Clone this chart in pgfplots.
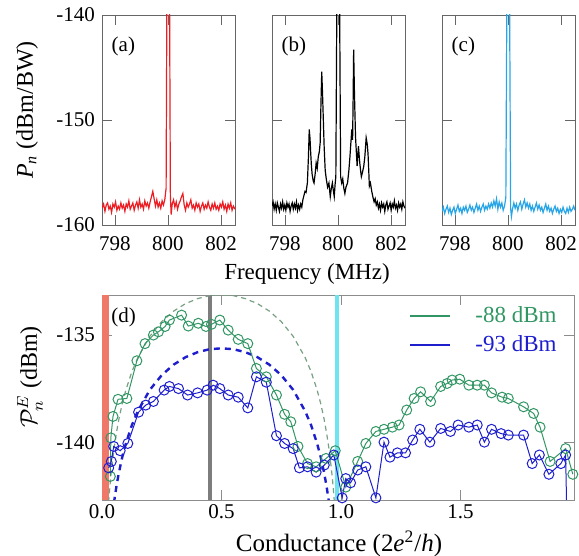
\documentclass[border=0pt]{standalone}
\usepackage{fontspec}
\setmainfont{Liberation Serif}
\usepackage{pgfplots}
\pgfplotsset{compat=1.18}

\definecolor{tracered}{RGB}{235,30,35}
\definecolor{traceblue}{RGB}{40,165,230}
\definecolor{hgreen}{RGB}{50,150,100}
\definecolor{hblue}{RGB}{30,30,205}
\definecolor{dgreen}{RGB}{120,160,130}
\definecolor{bandred}{RGB}{240,120,105}
\definecolor{bandgray}{RGB}{125,125,125}
\definecolor{bandcyan}{RGB}{110,228,238}

\pgfplotsset{
  every axis/.append style={
    scale only axis, font=\fontsize{10.5}{12}\selectfont,
    tick align=inside, major tick length=5pt,
    axis line style={black!60}, tick style={black!60},
    /pgf/number format/assume math mode=true,
  },
  spec/.style={
    width=66.5pt, height=105pt, anchor=south west,
    xmin=797.52, xmax=802.52, ymin=-160, ymax=-140,
    xtick={798,800,802}, ytick={-160,-150,-140}, yticklabels={},
    xticklabel style={yshift=-2pt},
  },
  trace/.style={line width=0.6pt, no marks},
}

\begin{document}
\begin{tikzpicture}
\path[use as bounding box] (0,0) rectangle (289.5pt,278pt);

% (a)
\begin{axis}[spec, at={(51pt,165.5pt)}, yticklabels={-160,-150,-140}]
\addplot[trace, tracered] coordinates {
(797.52,-158.4) (797.58,-158.0) (797.63,-158.7) (797.68,-158.1) (797.73,-157.9)
(797.78,-158.5) (797.83,-158.2) (797.88,-158.8) (797.93,-158.0) (797.98,-158.3)
(798.03,-157.8) (798.08,-158.6) (798.13,-158.2) (798.18,-158.5) (798.23,-157.9)
(798.28,-158.4) (798.33,-158.1) (798.38,-158.7) (798.43,-158.0) (798.48,-158.3)
(798.53,-157.7) (798.58,-158.5) (798.63,-158.2) (798.68,-157.9) (798.73,-158.6)
(798.78,-158.1) (798.83,-157.8) (798.88,-158.4) (798.93,-157.6) (798.98,-158.3)
(799.03,-158.0) (799.08,-158.5) (799.13,-157.7) (799.18,-158.2) (799.23,-157.9)
(799.28,-158.4) (799.33,-157.8) (799.38,-157.3) (799.43,-156.8) (799.48,-157.5)
(799.53,-158.2) (799.58,-157.6) (799.63,-158.3) (799.68,-157.9) (799.73,-158.4)
(799.78,-157.7) (799.83,-158.1) (799.88,-157.6) (799.93,-156.5) (799.96,-138)
(800.06,-138) (800.09,-157.2) (800.12,-159.0) (800.16,-158.0) (800.21,-157.6)
(800.26,-158.3) (800.31,-157.8) (800.36,-158.5) (800.41,-158.0) (800.46,-157.7)
(800.51,-157.3) (800.56,-157.0) (800.61,-158.1) (800.66,-158.6) (800.71,-157.9)
(800.76,-158.3) (800.81,-158.0) (800.86,-157.6) (800.91,-158.4) (800.96,-158.1)
(801.01,-158.6) (801.06,-157.9) (801.11,-158.3) (801.16,-158.0) (801.21,-158.7)
(801.26,-158.2) (801.31,-157.9) (801.36,-158.5) (801.41,-158.1) (801.46,-158.4)
(801.51,-157.8) (801.56,-158.3) (801.61,-158.6) (801.66,-158.0) (801.71,-158.4)
(801.76,-157.9) (801.81,-158.5) (801.86,-158.2) (801.91,-158.6) (801.96,-158.0)
(802.01,-158.3) (802.06,-157.8) (802.11,-158.5) (802.16,-158.1) (802.21,-158.7)
(802.26,-158.0) (802.31,-158.4) (802.36,-157.9) (802.41,-158.6) (802.46,-158.2)
(802.52,-158.5)};
\node[anchor=north west] at (rel axis cs:0.02,0.93) {(a)};
\end{axis}

% (b)
\begin{axis}[spec, at={(136pt,165.5pt)}]
\addplot[trace, black] coordinates {
(797.52,-158.2) (797.56,-157.8) (797.60,-158.5) (797.64,-158.0) (797.68,-158.6)
(797.72,-157.9) (797.76,-158.3) (797.80,-158.7) (797.84,-158.0) (797.88,-158.4)
(797.92,-157.8) (797.96,-158.5) (798.00,-158.1) (798.04,-158.6) (798.08,-157.9)
(798.12,-158.3) (798.16,-158.0) (798.20,-158.7) (798.24,-158.2) (798.28,-157.9)
(798.32,-158.5) (798.36,-158.0) (798.40,-158.4) (798.44,-157.8) (798.48,-158.6)
(798.52,-158.1) (798.56,-158.5) (798.60,-158.0) (798.64,-158.3) (798.68,-157.6)
(798.72,-157.2) (798.76,-156.8) (798.80,-156.9) (798.85,-156.0) (798.89,-153.5)
(798.92,-150.9) (798.95,-151.8) (798.97,-152.9) (799.00,-154.3) (799.03,-155.2)
(799.07,-155.8) (799.10,-156.0) (799.14,-155.2) (799.18,-154.1) (799.22,-154.6)
(799.26,-153.5) (799.30,-153.0) (799.33,-152.2) (799.36,-148.5) (799.39,-145.4)
(799.42,-147.5) (799.45,-150.0) (799.48,-152.5) (799.52,-154.8) (799.56,-155.6)
(799.61,-156.4) (799.66,-156.0) (799.71,-157.3) (799.75,-156.5) (799.79,-156.0)
(799.83,-156.8) (799.86,-157.3) (799.89,-156.2) (799.92,-155.4) (799.96,-138)
(800.06,-138) (800.10,-155.4) (800.14,-156.0) (800.18,-155.6) (800.22,-156.5)
(800.26,-157.0) (800.30,-156.4) (800.36,-156.0) (800.41,-154.8) (800.45,-153.5)
(800.49,-152.0) (800.52,-150.9) (800.55,-151.9) (800.57,-148.0) (800.59,-143.3)
(800.62,-147.5) (800.66,-151.6) (800.69,-153.0) (800.72,-154.4) (800.75,-153.2)
(800.77,-152.5) (800.80,-153.5) (800.82,-154.1) (800.85,-154.8) (800.88,-155.4)
(800.92,-155.0) (800.97,-154.4) (801.01,-153.5) (801.06,-151.7) (801.10,-152.3)
(801.13,-153.2) (801.16,-155.0) (801.18,-156.3) (801.22,-156.0) (801.27,-156.8)
(801.32,-157.4) (801.36,-157.8) (801.40,-157.5) (801.44,-158.1) (801.48,-157.8)
(801.52,-158.4) (801.56,-158.0) (801.60,-158.6) (801.64,-157.9) (801.68,-158.3)
(801.72,-158.0) (801.76,-158.7) (801.80,-158.1) (801.84,-157.8) (801.88,-158.5)
(801.92,-158.2) (801.96,-157.9) (802.00,-158.6) (802.04,-158.0) (802.08,-158.3)
(802.12,-157.7) (802.16,-158.4) (802.20,-158.1) (802.24,-158.6) (802.28,-157.9)
(802.32,-158.3) (802.36,-158.0) (802.40,-158.5) (802.44,-157.8) (802.48,-158.2)
(802.52,-158.4)};
\node[anchor=north west] at (rel axis cs:0.02,0.93) {(b)};
\end{axis}

% (c)
\begin{axis}[spec, at={(221pt,165.5pt)}]
\addplot[trace, traceblue] coordinates {
(797.52,-158.7) (797.57,-158.3) (797.62,-158.9) (797.67,-158.5) (797.72,-158.2)
(797.77,-158.8) (797.82,-158.4) (797.87,-159.0) (797.92,-158.6) (797.97,-158.3)
(798.02,-158.9) (798.07,-158.5) (798.12,-158.1) (798.17,-158.7) (798.22,-158.4)
(798.27,-158.9) (798.32,-158.3) (798.37,-158.6) (798.42,-158.2) (798.47,-158.8)
(798.52,-158.5) (798.57,-158.1) (798.62,-158.6) (798.67,-158.3) (798.72,-158.8)
(798.77,-158.4) (798.82,-158.0) (798.87,-158.6) (798.92,-158.2) (798.97,-158.7)
(799.02,-158.3) (799.07,-158.0) (799.12,-158.6) (799.17,-158.2) (799.22,-158.5)
(799.27,-158.0) (799.32,-158.4) (799.37,-157.9) (799.42,-158.3) (799.47,-157.7)
(799.52,-158.2) (799.57,-157.5) (799.62,-158.5) (799.67,-157.8) (799.72,-158.3)
(799.77,-157.9) (799.82,-158.6) (799.87,-158.2) (799.92,-157.4) (799.96,-138)
(800.06,-138) (800.10,-158.4) (800.13,-159.2) (800.17,-158.5) (800.22,-157.9)
(800.27,-158.4) (800.32,-158.0) (800.37,-158.6) (800.42,-158.1) (800.47,-157.8)
(800.52,-158.5) (800.57,-158.0) (800.62,-157.6) (800.67,-158.3) (800.72,-157.9)
(800.77,-158.4) (800.82,-158.0) (800.87,-158.6) (800.92,-158.2) (800.97,-158.7)
(801.02,-158.3) (801.07,-157.9) (801.12,-158.5) (801.17,-158.1) (801.22,-158.6)
(801.27,-158.3) (801.32,-158.8) (801.37,-158.4) (801.42,-158.0) (801.47,-158.6)
(801.52,-158.2) (801.57,-158.7) (801.62,-158.4) (801.67,-158.9) (801.72,-158.5)
(801.77,-158.2) (801.82,-158.7) (801.87,-158.4) (801.92,-158.9) (801.97,-158.5)
(802.02,-158.8) (802.07,-158.3) (802.12,-158.7) (802.17,-158.9) (802.22,-158.4)
(802.27,-158.8) (802.32,-158.3) (802.37,-158.7) (802.42,-158.5) (802.47,-158.2)
(802.52,-158.6)};
\node[anchor=north west] at (rel axis cs:0.02,0.93) {(c)};
\end{axis}

% (d)
\begin{axis}[width=236pt, height=102.5pt, at={(51pt,28pt)}, anchor=south west,
  xmin=0, xmax=1.975, ymin=-142.7, ymax=-133.13,
  xtick={0,0.5,1,1.5}, xticklabels={0.0,0.5,1.0,1.5},
  xticklabel style={yshift=-1pt, inner sep=1pt},
  ytick={-140,-135}, yticklabels={-140,-135},
  axis line style={black!45}, tick style={black!45},
  legend style={draw=none, fill=none, at={(rel axis cs:0.985,0.985)}, anchor=north east,
    font=\fontsize{11.5}{13}\selectfont, row sep=1pt,
    /tikz/every odd column/.style={column sep=10pt}},
  legend image code/.code={\draw[#1, mark=none, line width=1pt] (0pt,0pt) -- (20pt,0pt);},
]
\addplot[draw=none, fill=bandred, forget plot] coordinates {(0,-143) (0.028,-143) (0.028,-133) (0,-133)} -- cycle;
\addplot[bandgray, line width=2pt, forget plot] coordinates {(0.45,-143) (0.45,-133)};
\addplot[bandcyan, line width=2pt, forget plot] coordinates {(0.985,-143) (0.985,-133)};
\addplot[dgreen, line width=0.6pt, dash pattern=on 2.5pt off 2pt, forget plot] coordinates {
(0.025,-143.23) (0.03,-142.46) (0.035,-141.81) (0.04,-141.26) (0.05,-140.33) (0.06,-139.59)
(0.07,-138.96) (0.085,-138.19) (0.1,-137.56) (0.125,-136.71) (0.15,-136.05) (0.2,-135.06)
(0.25,-134.37) (0.3,-133.88) (0.35,-133.53) (0.4,-133.30) (0.45,-133.16) (0.5,-133.12)
(0.55,-133.16) (0.6,-133.30) (0.65,-133.53) (0.7,-133.88) (0.75,-134.37) (0.8,-135.06)
(0.85,-136.05) (0.875,-136.71) (0.9,-137.56) (0.915,-138.19) (0.93,-138.96) (0.94,-139.59)
(0.95,-140.33) (0.96,-141.26) (0.965,-141.81) (0.97,-142.46) (0.975,-143.23)};
\addplot[hblue, line width=1.2pt, dash pattern=on 3pt off 2.5pt, forget plot] coordinates {
(0.05,-142.83) (0.06,-142.09) (0.07,-141.46) (0.085,-140.69) (0.1,-140.06) (0.125,-139.21)
(0.15,-138.55) (0.2,-137.56) (0.25,-136.87) (0.3,-136.38) (0.35,-136.03) (0.4,-135.80)
(0.45,-135.66) (0.5,-135.62) (0.55,-135.66) (0.6,-135.80) (0.65,-136.03) (0.7,-136.38)
(0.75,-136.87) (0.8,-137.56) (0.85,-138.55) (0.875,-139.21) (0.9,-140.06) (0.915,-140.69)
(0.93,-141.46) (0.94,-142.09) (0.95,-142.83)};
\addplot[hgreen, line width=0.5pt, mark=o, mark size=2.5pt] coordinates {
(0.035,-141.6) (0.037,-139.8) (0.046,-138.8) (0.067,-138.0) (0.104,-137.96) (0.146,-136.2)
(0.18,-135.4) (0.215,-135.0) (0.236,-134.85) (0.264,-134.6) (0.282,-134.3) (0.333,-134.07)
(0.361,-134.58) (0.403,-134.45) (0.435,-134.6) (0.458,-134.5) (0.493,-134.3) (0.528,-134.77)
(0.57,-135.2) (0.61,-135.4) (0.646,-136.56) (0.6875,-136.95) (0.73,-137.8) (0.764,-138.7)
(0.79,-139.05) (0.82,-140.2) (0.86,-141.0) (0.896,-141.15) (0.9375,-140.76) (0.976,-140.4)
(1.02,-142.1) (1.07,-140.9) (1.104,-140.06) (1.146,-139.5) (1.18,-139.4) (1.215,-139.3)
(1.243,-139.2) (1.275,-138.5) (1.306,-137.96) (1.333,-137.65) (1.375,-138.1) (1.417,-137.4)
(1.444,-137.26) (1.465,-137.1) (1.497,-137.06) (1.535,-137.34) (1.57,-137.34) (1.6,-137.34)
(1.63,-137.7) (1.674,-137.9) (1.7,-137.96) (1.764,-138.35) (1.806,-138.66) (1.833,-139.3)
(1.875,-140.9) (1.94,-140.3) (1.97,-141.5)};
\addlegendentry{\textcolor{hgreen}{-88 dBm}}
\addplot[hblue, line width=0.5pt, mark=o, mark size=2.5pt] coordinates {
(0.028,-141.2) (0.039,-140.9) (0.049,-140.2) (0.076,-140.4) (0.108,-140.06) (0.153,-138.6)
(0.183,-138.27) (0.215,-138.1) (0.26,-137.57) (0.282,-137.4) (0.32,-137.5) (0.358,-137.8)
(0.4,-137.7) (0.44,-137.57) (0.465,-137.34) (0.493,-137.5) (0.528,-137.8) (0.57,-137.9)
(0.61,-138.4) (0.646,-136.95) (0.6875,-137.2) (0.73,-139.7) (0.764,-140.06) (0.8,-140.3)
(0.826,-141.2) (0.86,-141.15) (0.896,-141.4) (0.93,-141.07) (0.97,-140.6) (1.005,-142.6)
(1.02,-141.7) (1.04,-141.9) (1.07,-141.3) (1.104,-141.15) (1.146,-142.6) (1.18,-140.0)
(1.205,-140.7) (1.236,-140.5) (1.27,-140.5) (1.3,-139.9) (1.33,-139.4) (1.372,-140.0)
(1.417,-139.36) (1.458,-139.5) (1.49,-139.2) (1.535,-139.3) (1.57,-139.2) (1.6,-140.0)
(1.63,-139.4) (1.67,-139.6) (1.7,-139.67) (1.764,-139.67) (1.8,-141.0) (1.83,-140.6)
(1.87,-141.5) (1.92,-141.0) (1.94,-140.6) (1.945,-143.5)};
\addlegendentry{\textcolor{hblue}{-93 dBm}}
\node[anchor=north west] at (rel axis cs:0.005,0.97) {(d)};
\end{axis}

\node[rotate=90, font=\fontsize{12}{14}\selectfont] at (13.5pt,223pt) {{\itshape P}\textsubscript{\itshape n} (dBm/BW)};
\node[font=\fontsize{11.5}{13}\selectfont] at (153.5pt,141pt) {Frequency (MHz)};
\node[rotate=90, font=\fontsize{12}{14}\selectfont] at (15pt,89.5pt) {$\mathcal{P}_n^E$ (dBm)};
\node[font=\fontsize{12.5}{14}\selectfont, inner sep=0pt] at (169.5pt,6pt) {Conductance (2{\itshape e}\textsuperscript{2}/{\itshape h})};
\end{tikzpicture}
\end{document}
